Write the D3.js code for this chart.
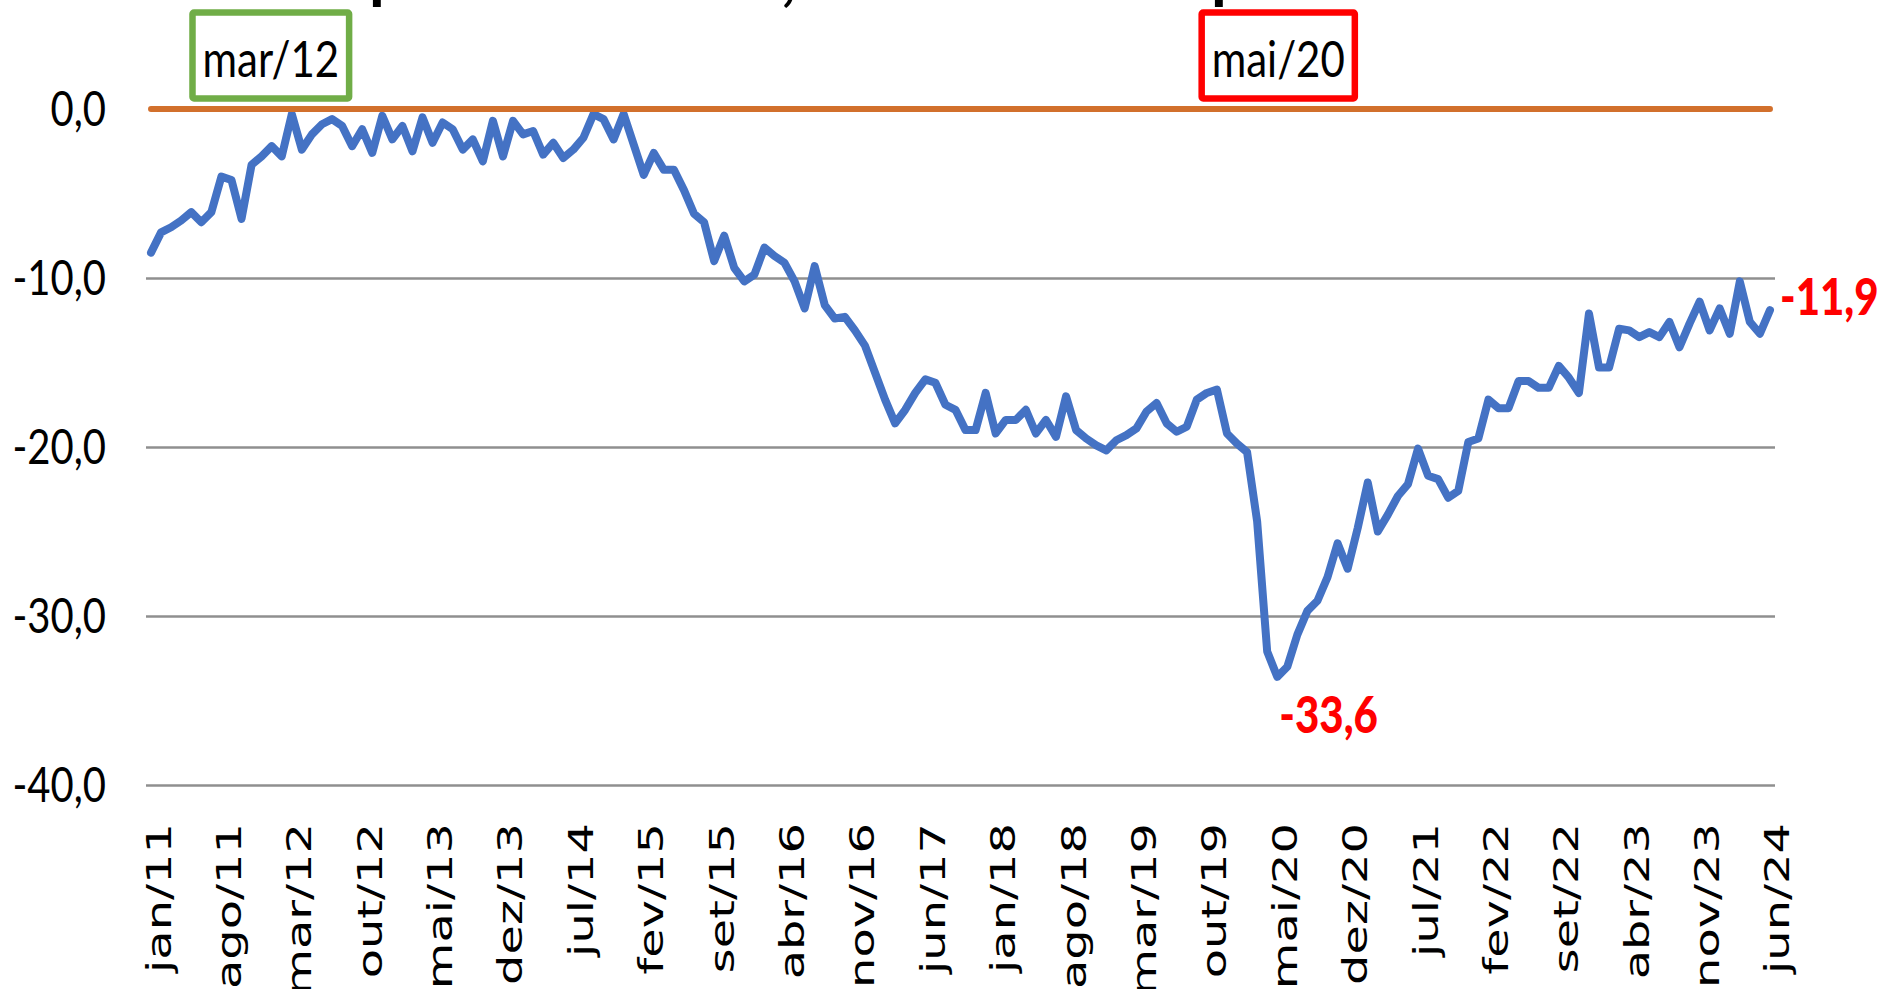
<!DOCTYPE html>
<html>
<head>
<meta charset="utf-8">
<script src="https://cdn.jsdelivr.net/npm/d3@7"></script>
<style>
html, body { margin: 0; padding: 0; background: #fff; overflow: hidden; }
</style>
</head>
<body>
<svg class="view" width="1877" height="989"></svg>
<script>
/* global d3 */

// months jan/11 .. jun/24
var monthNames = ['jan', 'fev', 'mar', 'abr', 'mai', 'jun', 'jul', 'ago', 'set', 'out', 'nov', 'dez'];
var months = [];
for (var yr = 11; yr <= 24; yr++) {
    for (var m = 0; m < 12; m++) {
        if (yr === 24 && m > 5) break;
        months.push(monthNames[m] + '/' + yr);
    }
}

var values = [
    -8.5, -7.3, -7.0, -6.6, -6.1, -6.7, -6.1, -4.0, -4.2, -6.5, -3.3, -2.8,
    -2.2, -2.8, -0.3, -2.4, -1.5, -0.9, -0.6, -1.0, -2.2, -1.2, -2.6, -0.4,
    -1.8, -1.0, -2.5, -0.5, -2.0, -0.8, -1.2, -2.4, -1.8, -3.1, -0.7, -2.8,
    -0.7, -1.5, -1.3, -2.7, -2.0, -2.9, -2.4, -1.7, -0.3, -0.6, -1.8, -0.3,
    -2.1, -3.9, -2.6, -3.6, -3.6, -4.8, -6.2, -6.7, -9.0, -7.5, -9.4, -10.2,
    -9.8, -8.2, -8.7, -9.1, -10.2, -11.8, -9.3, -11.6, -12.4, -12.3, -13.1, -14.0,
    -15.6, -17.2, -18.6, -17.8, -16.8, -16.0, -16.2, -17.5, -17.8, -19.0, -19.0, -16.8,
    -19.2, -18.4, -18.4, -17.8, -19.2, -18.4, -19.4, -17.0, -19.0, -19.5, -19.9, -20.2,
    -19.6, -19.3, -18.9, -17.9, -17.4, -18.6, -19.1, -18.8, -17.2, -16.8, -16.6, -19.2,
    -19.8, -20.3, -24.4, -32.1, -33.6, -33.0, -31.1, -29.7, -29.1, -27.7, -25.7, -27.2,
    -24.8, -22.1, -25.0, -24.0, -22.9, -22.2, -20.1, -21.7, -21.9, -23.0, -22.6, -19.7,
    -19.5, -17.2, -17.7, -17.7, -16.1, -16.1, -16.5, -16.5, -15.2, -15.9, -16.8, -12.1,
    -15.3, -15.3, -13.0, -13.1, -13.5, -13.2, -13.5, -12.6, -14.1, -12.7, -11.4, -13.1,
    -11.8, -13.3, -10.2, -12.6, -13.3, -11.9
];

var tickLabels = ['jan/11', 'ago/11', 'mar/12', 'out/12', 'mai/13', 'dez/13', 'jul/14', 'fev/15',
    'set/15', 'abr/16', 'nov/16', 'jun/17', 'jan/18', 'ago/18', 'mar/19', 'out/19', 'mai/20',
    'dez/20', 'jul/21', 'fev/22', 'set/22', 'abr/23', 'nov/23', 'jun/24'];

var yTicks = [0, -10, -20, -30, -40];

var highlightMonths = ['mar/12', 'mai/20'];
var highlightColors = ['#70AD47', '#FF0000'];

var labelMonths = ['mai/20', 'jun/24'];
var labelTexts = ['-33,6', '-11,9'];

var data = months.map(function (d, i) {
    return {month: d, value: values[i]};
});

var svg = d3.select('.view');
var plotLeft = 146, plotRight = 1775, plotTop = 109, plotBottom = 785;

var x = d3.scalePoint().domain(months).range([plotLeft, plotRight]).padding(0.5);
var y = d3.scaleLinear().domain([-40, 0]).range([plotBottom, plotTop]);

var ptBR = d3.formatLocale({decimal: ',', thousands: '.', grouping: [3], currency: ['R$', ''], minus: '-'});
var fmt = ptBR.format('.1f');

var stretch = 1.22; // text in the picture is stretched vertically

// grid
svg.append('g')
    .attr('class', 'grid')
    .attr('transform', 'translate(' + plotLeft + ',0)')
    .call(d3.axisLeft(y).tickValues(yTicks.filter(function (d) { return d !== 0; }))
        .tickSize(-(plotRight - plotLeft)).tickFormat(''))
    .call(function (g) {
        g.select('.domain').remove();
        g.selectAll('line').attr('stroke', '#8f8f8f').attr('stroke-width', 2.6);
    });

// y labels
svg.append('g')
    .attr('transform', 'translate(' + plotLeft + ',0)')
    .call(d3.axisLeft(y).tickValues(yTicks).tickSize(0).tickFormat(fmt))
    .call(function (g) {
        g.select('.domain').remove();
        g.selectAll('text')
            .attr('x', null)
            .attr('dy', null)
            .attr('transform', 'translate(-40,16) scale(1,' + stretch + ')')
            .attr('text-anchor', 'end')
            .attr('fill', '#000')
            .style('font-family', 'Lato, sans-serif')
            .style('font-size', '40px');
    });

// x labels
svg.append('g')
    .attr('transform', 'translate(0,' + plotBottom + ')')
    .call(d3.axisBottom(x).tickValues(tickLabels).tickSize(0))
    .call(function (g) {
        g.select('.domain').remove();
        g.selectAll('text')
            .attr('y', null)
            .attr('dy', null)
            .attr('transform', 'translate(19,38) rotate(-90) scale(1.45,1)')
            .attr('text-anchor', 'end')
            .attr('fill', '#000')
            .style('font-family', '"DejaVu Sans", sans-serif')
            .style('font-size', '33px');
    });

var line = d3.line()
    .x(function (d) { return x(d.month); })
    .y(function (d) { return y(d.value); });

svg.append('path')
    .datum(data)
    .attr('d', line)
    .attr('fill', 'none')
    .attr('stroke', '#4472C4')
    .attr('stroke-width', 8)
    .attr('stroke-linejoin', 'round')
    .attr('stroke-linecap', 'round');

// zero line
svg.append('line')
    .attr('x1', x(months[0]))
    .attr('x2', x(months[months.length - 1]))
    .attr('y1', y(0))
    .attr('y2', y(0))
    .attr('stroke', '#D2702C')
    .attr('stroke-width', 6)
    .attr('stroke-linecap', 'round');

// highlighted months (boxes on top)
var boxShift = [-21, 1];
highlightMonths.forEach(function (mo, i) {
    var g = svg.append('g');
    var cx = x(mo) + boxShift[i];
    var t = g.append('text')
        .attr('transform', 'translate(' + cx + ',77) scale(1,' + stretch + ')')
        .attr('text-anchor', 'middle')
        .style('font-family', 'Lato, sans-serif')
        .style('font-size', '42px')
        .attr('fill', '#000')
        .text(mo);
    var w = t.node().getComputedTextLength() + 20;
    g.insert('rect', 'text')
        .attr('x', cx - w / 2)
        .attr('y', 12.5)
        .attr('width', w)
        .attr('height', 86)
        .attr('rx', 1.5)
        .attr('fill', '#fff')
        .attr('stroke', highlightColors[i])
        .attr('stroke-width', 6.5);
});

// value labels
var labelOffset = [[2, 56], [10, 5]];
labelMonths.forEach(function (mo, i) {
    var v = values[months.indexOf(mo)];
    svg.append('text')
        .attr('transform', 'translate(' + (x(mo) + labelOffset[i][0]) + ',' + (y(v) + labelOffset[i][1]) + ') scale(1,' + stretch + ')')
        .style('font-family', 'Lato, sans-serif')
        .style('font-weight', '900')
        .style('font-size', '42px')
        .attr('fill', '#FF0000')
        .text(labelTexts[i]);
});

// title, cut off at the top of the picture
var title = svg.append('g')
    .style('font-family', 'Lato, sans-serif')
    .style('font-weight', 'bold')
    .style('font-size', '64px')
    .attr('fill', '#000');
title.append('text').attr('x', 369).attr('y', -3).text('p');
title.append('text').attr('x', 781).attr('y', -1).text(',');
title.append('text').attr('x', 1211).attr('y', -3).text('p');
</script>
</body>
</html>
